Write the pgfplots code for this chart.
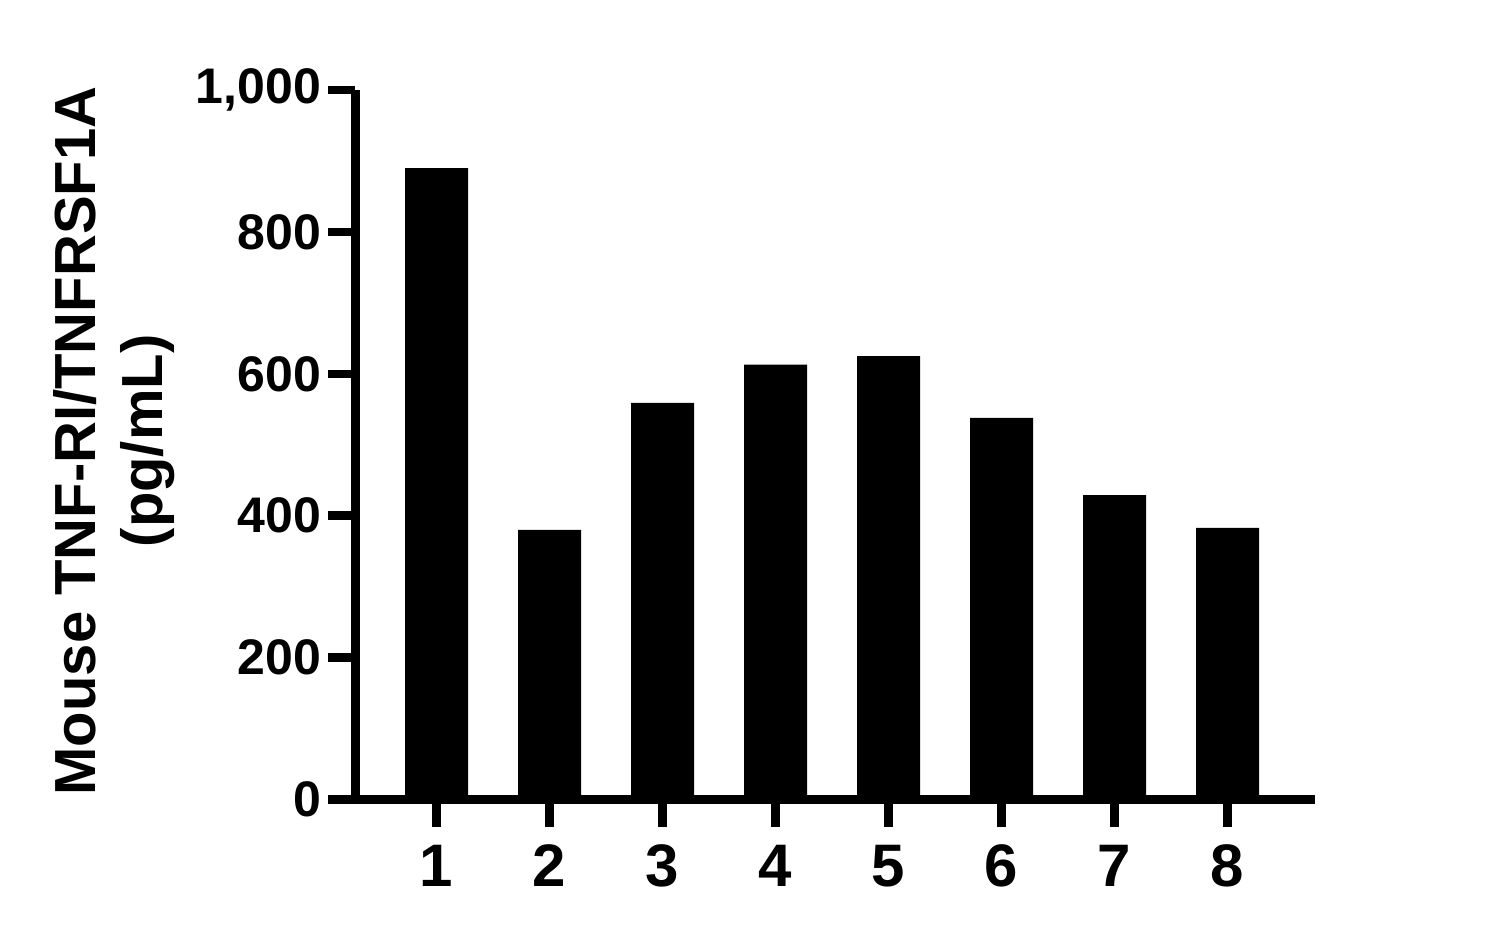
\documentclass[border=0pt]{standalone}
\usepackage{fontspec}
\setmainfont{Liberation Sans}
\usepackage{pgfplots}
\pgfplotsset{compat=1.18}
\begin{document}
\begin{tikzpicture}
\useasboundingbox (-177.75pt,-69.75pt) rectangle (568.25pt,399.75pt);
\begin{axis}[
  at={(0,0)}, anchor=south west,
  scale only axis, width=479.75pt, height=354.75pt,
  xmin=0.283, xmax=8.774, ymin=0, ymax=1000,
  axis x line*=bottom, axis y line*=left,
  axis line style={line width=4.25pt, black},
  x axis line style={shorten <=-13.75pt},
  xtick={1,...,8}, ytick={0,200,...,1000},
  tick align=outside, major tick length=13.5pt,
  tick style={line width=4.25pt, black},
  /pgf/number format/assume math mode=true,
  /pgf/number format/1000 sep={,},
  yticklabel style={font=\fontsize{25}{30}\selectfont\bfseries, inner sep=0pt, xshift=-3.5pt},
  xticklabel style={font=\fontsize{30}{36}\selectfont\bfseries, inner sep=0pt, yshift=-9pt},
  ylabel={Mouse TNF-RI/TNFRSF1A\\(pg/mL)},
  ylabel style={font=\fontsize{29}{33.5}\selectfont\bfseries, align=center, inner sep=0pt,
    at={(axis description cs:-0.252,0.5053)}, anchor=center},
]
\addplot[ybar, fill=black, draw=none, bar width=0.5575]
  coordinates {(1,890) (2,380) (3,559) (4,613) (5,625) (6,538) (7,429) (8,383)};
\end{axis}
\end{tikzpicture}
\end{document}
